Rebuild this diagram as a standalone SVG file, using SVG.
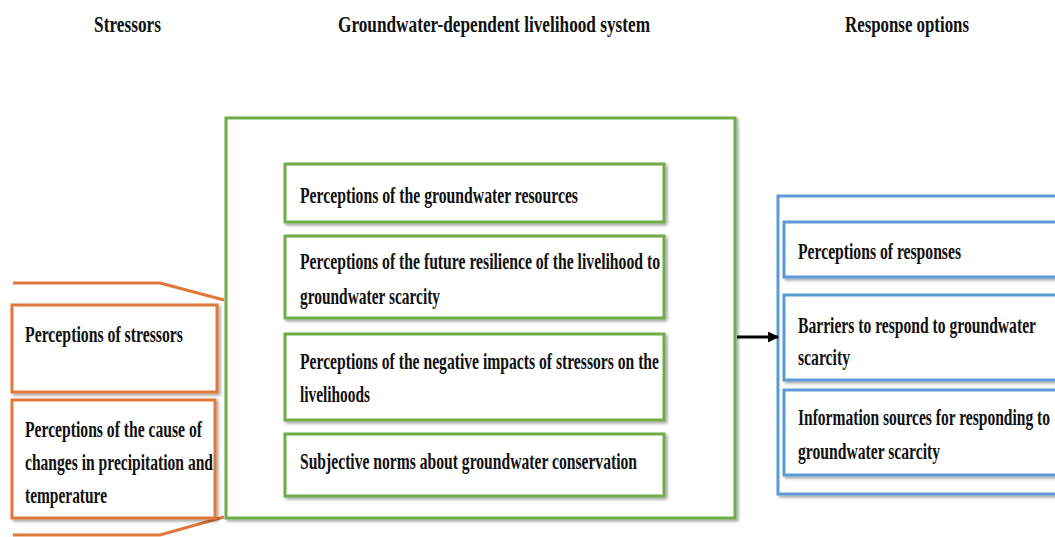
<svg xmlns="http://www.w3.org/2000/svg" width="1055" height="537" viewBox="0 0 1055 537">
<defs>
<filter id="sh" x="-5%" y="-10%" width="115%" height="130%">
<feDropShadow dx="2" dy="2" stdDeviation="1.5" flood-color="#000" flood-opacity="0.35"/>
</filter>
<marker id="ah" markerWidth="11" markerHeight="11" refX="10" refY="5.5" orient="auto" markerUnits="userSpaceOnUse">
<path d="M0,0 L11,5.5 L0,11 Z" fill="#000"/>
</marker>
<style>
text{font-family:"Liberation Serif","Times New Roman",serif;font-weight:bold;font-size:24px;fill:#111;}
.o{fill:#fff;stroke:#E0783A;stroke-width:3;}
.g{fill:#fff;stroke:#6FAC46;stroke-width:3;}
.b{fill:#fff;stroke:#5B9BD5;stroke-width:3;}
.ol{fill:none;stroke:#E0783A;stroke-width:3;}
</style>
</defs>
<rect width="1055" height="537" fill="#fff"/>
<g id="titles">
<text x="94" y="32" textLength="67" lengthAdjust="spacingAndGlyphs">Stressors</text>
<text x="338" y="32" textLength="312" lengthAdjust="spacingAndGlyphs">Groundwater-dependent livelihood system</text>
<text x="845" y="32" textLength="124" lengthAdjust="spacingAndGlyphs">Response options</text>
</g>
<g id="stressors-bracket">
<path class="ol" d="M13,283 L160,283 L224,300"/>
<path class="ol" d="M13,535 L160,535 L224,517"/>
</g>
<g id="stressors">
<rect class="o" x="12" y="305" width="205" height="87" filter="url(#sh)"/>
<text x="25" y="342" textLength="158" lengthAdjust="spacingAndGlyphs">Perceptions of stressors</text>
</g>
<g id="cause">
<rect class="o" x="12" y="400" width="203" height="118" filter="url(#sh)"/>
<text x="25" y="437" textLength="177" lengthAdjust="spacingAndGlyphs">Perceptions of the cause of</text>
<text x="25" y="470" textLength="188" lengthAdjust="spacingAndGlyphs">changes in precipitation and</text>
<text x="25" y="503" textLength="82" lengthAdjust="spacingAndGlyphs">temperature</text>
</g>
<g id="livelihood-system">
<rect class="g" x="226" y="118" width="509" height="400" filter="url(#sh)"/>
</g>
<g id="gw-resources">
<rect class="g" x="285" y="164" width="379" height="58" filter="url(#sh)"/>
<text x="300" y="203" textLength="278" lengthAdjust="spacingAndGlyphs">Perceptions of the groundwater resources</text>
</g>
<g id="future-resilience">
<rect class="g" x="285" y="236" width="379" height="82" filter="url(#sh)"/>
<text x="300" y="269" textLength="360" lengthAdjust="spacingAndGlyphs">Perceptions of the future resilience of the livelihood to</text>
<text x="300" y="304" textLength="140" lengthAdjust="spacingAndGlyphs">groundwater scarcity</text>
</g>
<g id="negative-impacts">
<rect class="g" x="285" y="334" width="379" height="86" filter="url(#sh)"/>
<text x="300" y="369" textLength="359" lengthAdjust="spacingAndGlyphs">Perceptions of the negative impacts of stressors on the</text>
<text x="300" y="402" textLength="70" lengthAdjust="spacingAndGlyphs">livelihoods</text>
</g>
<g id="subjective-norms">
<rect class="g" x="285" y="434" width="379" height="62" filter="url(#sh)"/>
<text x="300" y="469" textLength="337" lengthAdjust="spacingAndGlyphs">Subjective norms about groundwater conservation</text>
</g>
<g id="response-options">
<rect class="b" x="778" y="196" width="290" height="298" filter="url(#sh)"/>
</g>
<g id="perceptions-responses">
<rect class="b" x="784" y="222" width="284" height="55" filter="url(#sh)"/>
<text x="798" y="259" textLength="163" lengthAdjust="spacingAndGlyphs">Perceptions of responses</text>
</g>
<g id="barriers">
<rect class="b" x="784" y="295" width="284" height="85" filter="url(#sh)"/>
<text x="798" y="333" textLength="238" lengthAdjust="spacingAndGlyphs">Barriers to respond to groundwater</text>
<text x="798" y="365" textLength="52" lengthAdjust="spacingAndGlyphs">scarcity</text>
</g>
<g id="information-sources">
<rect class="b" x="784" y="390" width="284" height="85" filter="url(#sh)"/>
<text x="798" y="425" textLength="252" lengthAdjust="spacingAndGlyphs">Information sources for responding to</text>
<text x="798" y="459" textLength="142" lengthAdjust="spacingAndGlyphs">groundwater scarcity</text>
</g>
<g id="connectors">
<line x1="737" y1="337" x2="778" y2="337" stroke="#000" stroke-width="3" marker-end="url(#ah)"/>
</g>
</svg>
